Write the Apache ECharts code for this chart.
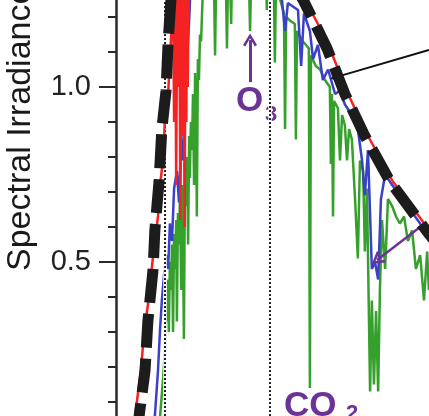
<!DOCTYPE html>
<html>
<head>
<meta charset="utf-8">
<script src="https://cdn.jsdelivr.net/npm/echarts@6/dist/echarts.min.js"></script>
<style>
  html, body { margin: 0; padding: 0; background: #fff; }
  #spectrum { width: 429px; height: 416px; }
</style>
</head>
<body>
<div id="spectrum"></div>
<script>
  // wavelength (nm) / spectral irradiance pairs
  var blackbody = [
    [317, 0.00], [326, 0.06], [343, 0.19], [351, 0.33], [366, 0.48], [371, 0.59],
    [383, 0.73], [391, 0.88], [403, 0.99], [409, 1.13], [417, 1.25], [440, 1.40],
    [700, 1.40], [794, 1.25], [829, 1.18], [863, 1.11], [914, 0.98], [971, 0.86],
    [1043, 0.73], [1117, 0.63], [1154, 0.58], [1180, 0.55]
  ]
  // extraterrestrial (red)
  var am0 = [
    [309, 0.00], [317, 0.08], [331, 0.19], [337, 0.26], [346, 0.34], [357, 0.42],
    [363, 0.49], [371, 0.56], [380, 0.63], [386, 0.72], [394, 0.79], [400, 0.91],
    [409, 0.98], [414, 1.08], [420, 1.19], [423, 1.30], [426, 0.90], [429, 1.30],
    [432, 0.72], [435, 1.30], [438, 1.00], [441, 1.30], [444, 0.62], [447, 1.30],
    [450, 0.86], [453, 1.30], [456, 0.60], [459, 1.30], [461, 0.90], [463, 1.30],
    [465, 1.00], [468, 1.35], [760, 1.35], [800, 1.25], [837, 1.18], [871, 1.11],
    [923, 0.98], [980, 0.86], [1051, 0.73], [1126, 0.63], [1163, 0.58]
  ]
  // direct beam (blue)
  var direct = [
    [363, 0.00], [371, 0.06], [380, 0.19], [386, 0.31], [391, 0.39], [397, 0.46],
    [403, 0.52], [409, 0.48], [414, 0.61], [420, 0.56], [426, 0.71], [434, 0.76],
    [440, 0.67], [446, 0.85], [451, 0.79], [457, 0.99], [463, 1.08], [469, 1.19],
    [474, 1.31], [720, 1.35], [734, 1.25], [743, 1.16], [751, 1.24], [780, 1.22],
    [789, 1.06], [797, 1.21], [814, 1.16], [823, 1.08], [837, 1.12], [851, 1.02],
    [866, 1.05], [886, 0.98], [900, 0.99], [914, 0.95], [934, 0.92], [951, 0.88],
    [963, 0.79], [971, 0.69], [980, 0.82], [991, 0.48], [1000, 0.50], [1009, 0.45],
    [1017, 0.68], [1029, 0.75], [1049, 0.72], [1071, 0.69], [1100, 0.65], [1129, 0.61],
    [1154, 0.56]
  ]
  // at ground level, with the absorption bands (green)
  var ground = [
    [380, 0.00], [386, 0.06], [394, 0.16], [400, 0.25], [403, 0.38], [406, 0.33],
    [408, 0.45], [411, 0.30], [414, 0.50], [417, 0.42], [420, 0.55], [423, 0.30],
    [426, 0.58], [429, 0.48], [432, 0.62], [434, 0.33], [437, 0.64], [440, 0.55],
    [443, 0.70], [446, 0.42], [449, 0.72], [451, 0.60], [454, 0.28], [457, 0.76],
    [460, 0.66], [463, 0.80], [466, 0.55], [469, 0.86], [471, 0.74], [474, 0.90],
    [477, 0.82], [480, 0.98], [483, 0.72], [486, 1.04], [489, 0.93], [491, 0.63],
    [494, 1.08], [497, 1.02], [500, 1.15], [503, 1.13], [509, 1.30],
    [540, 1.30], [543, 1.09], [546, 1.30], [574, 1.30], [577, 1.11], [580, 1.30],
    [586, 1.30], [589, 1.18], [591, 1.30], [640, 1.30], [643, 1.16], [646, 1.30],
    [689, 1.30], [691, 1.22], [694, 1.30], [711, 1.30], [714, 1.07], [717, 1.30],
    [729, 1.25], [740, 1.21], [743, 0.88], [746, 1.20], [757, 1.19], [771, 1.18],
    [774, 0.85], [777, 1.16], [794, 1.13], [803, 1.12], [811, 1.11], [814, 0.14],
    [817, 1.09], [831, 1.06], [843, 1.05], [857, 1.02], [871, 1.00], [874, 0.78],
    [877, 0.98], [880, 0.63], [883, 0.96], [894, 0.94], [900, 0.79], [906, 0.92],
    [914, 0.89], [920, 0.79], [926, 0.88], [934, 0.85], [943, 0.68], [951, 0.51],
    [957, 0.79], [966, 0.76], [971, 0.53], [977, 0.71], [986, 0.13], [991, 0.39],
    [997, 0.15], [1003, 0.36], [1009, 0.13], [1014, 0.42], [1020, 0.62], [1029, 0.48],
    [1037, 0.68], [1049, 0.66], [1060, 0.63], [1071, 0.61], [1083, 0.63], [1094, 0.56],
    [1106, 0.59], [1117, 0.48], [1129, 0.52], [1140, 0.39], [1149, 0.53], [1154, 0.42]
  ]
  // visible band edges (dotted lines)
  var visibleEdges = [400, 700]
  var minorTicks = [0.1, 0.2, 0.3, 0.4, 0.5, 0.6, 0.7, 0.8, 0.9, 1.0, 1.1, 1.2]
  var majorTicks = [0.5, 1.0]
  // arrows: [from, to]
  var o3Arrow = [[643, 1.014], [643, 1.134]]
  var curveArrow = [[1154, 1.106], [891, 1.029]]
  var dipArrow = [[1129, 0.60], [1006, 0.506]]

  var chevron = 'path://M5,0 L10,9 L8.4,10.2 L5,3.6 L1.6,10.2 L0,9 Z'
  var purple = '#6c3396'
  var axisColor = '#2a2a24'
  var family = '"Liberation Sans", Arial, sans-serif'

  var chart = echarts.init(document.getElementById('spectrum'))

  function edgeLines (color, width, type) {
    return {
      type: 'line', data: [], z: 4, silent: true,
      markLine: {
        silent: true, animation: false, symbol: ['none', 'none'],
        label: { show: false },
        lineStyle: { color: color, width: width, type: type },
        data: visibleEdges.map(function (v) { return { xAxis: v } })
      }
    }
  }

  function arrowLine (pts, color, width) {
    return [
      { coord: pts[0], lineStyle: { color: color, width: width, type: 'solid' } },
      { coord: pts[1] }
    ]
  }

  function label (text, x, y, size, weight, color, rot) {
    return {
      type: 'text', x: x, y: y, rotation: rot || 0,
      style: {
        text: text, fill: color, fontSize: size, fontWeight: weight, fontFamily: family,
        align: 'left', verticalAlign: 'middle'
      }
    }
  }

  chart.setOption({
    animation: false,
    grid: { left: 116, right: 0, top: 0, bottom: 0 },
    xAxis: { type: 'value', min: 260, max: 1154.3, show: false },
    yAxis: [
      {
        type: 'value', min: 0.06, max: 1.2486, position: 'left',
        splitLine: { show: false },
        axisLine: { show: true, lineStyle: { color: axisColor, width: 2.5 } },
        axisTick: { show: true, customValues: minorTicks, length: 8, lineStyle: { color: axisColor, width: 2 } },
        axisLabel: { show: false }
      },
      {
        type: 'value', min: 0.06, max: 1.2486, position: 'left', offset: 0,
        splitLine: { show: false },
        axisLine: { show: false },
        axisTick: { show: true, customValues: majorTicks, length: 17, lineStyle: { color: axisColor, width: 2 } },
        axisLabel: {
          show: true, customValues: majorTicks, margin: 25,
          fontSize: 29, fontFamily: family, color: '#222',
          formatter: function (v) { return v.toFixed(1) }
        }
      }
    ],
    graphic: [
      label('Spectral Irradiance', 21, 271, 34, 'normal', '#1a1a1a', Math.PI / 2),
      label('O', 236, 101, 35, 'bold', purple),
      label('3', 265, 115, 22, 'bold', purple),
      label('CO', 284, 406, 35, 'bold', purple),
      label('2', 346, 414, 22, 'bold', purple)
    ],
    series: [
      {
        name: 'ground', type: 'line', data: ground, symbol: 'none', z: 2,
        lineStyle: { color: '#36a02c', width: 2.5, join: 'bevel' }
      },
      {
        name: 'direct', type: 'line', data: direct, symbol: 'none', z: 3,
        lineStyle: { color: '#3a40c8', width: 2.5, join: 'bevel' }
      },
      edgeLines('#ffffff', 3.5, 'solid'),
      edgeLines('#222222', 2, [2, 2]),
      {
        name: 'am0', type: 'line', data: am0, symbol: 'none', z: 5,
        lineStyle: { color: '#f42222', width: 2.5, join: 'bevel' }
      },
      {
        name: 'blackbody', type: 'line', data: blackbody, symbol: 'none', z: 6,
        lineStyle: { color: '#1c1c1c', width: 11, type: [34, 11], cap: 'butt' }
      },
      {
        type: 'line', data: [], z: 7, silent: true,
        markLine: {
          silent: true, animation: false,
          symbol: ['none', chevron], symbolSize: [14, 13],
          label: { show: false },
          data: [
            arrowLine(o3Arrow, purple, 3),
            arrowLine(curveArrow, '#111111', 2),
            arrowLine(dipArrow, purple, 2.5)
          ]
        }
      }
    ]
  })
</script>
</body>
</html>
